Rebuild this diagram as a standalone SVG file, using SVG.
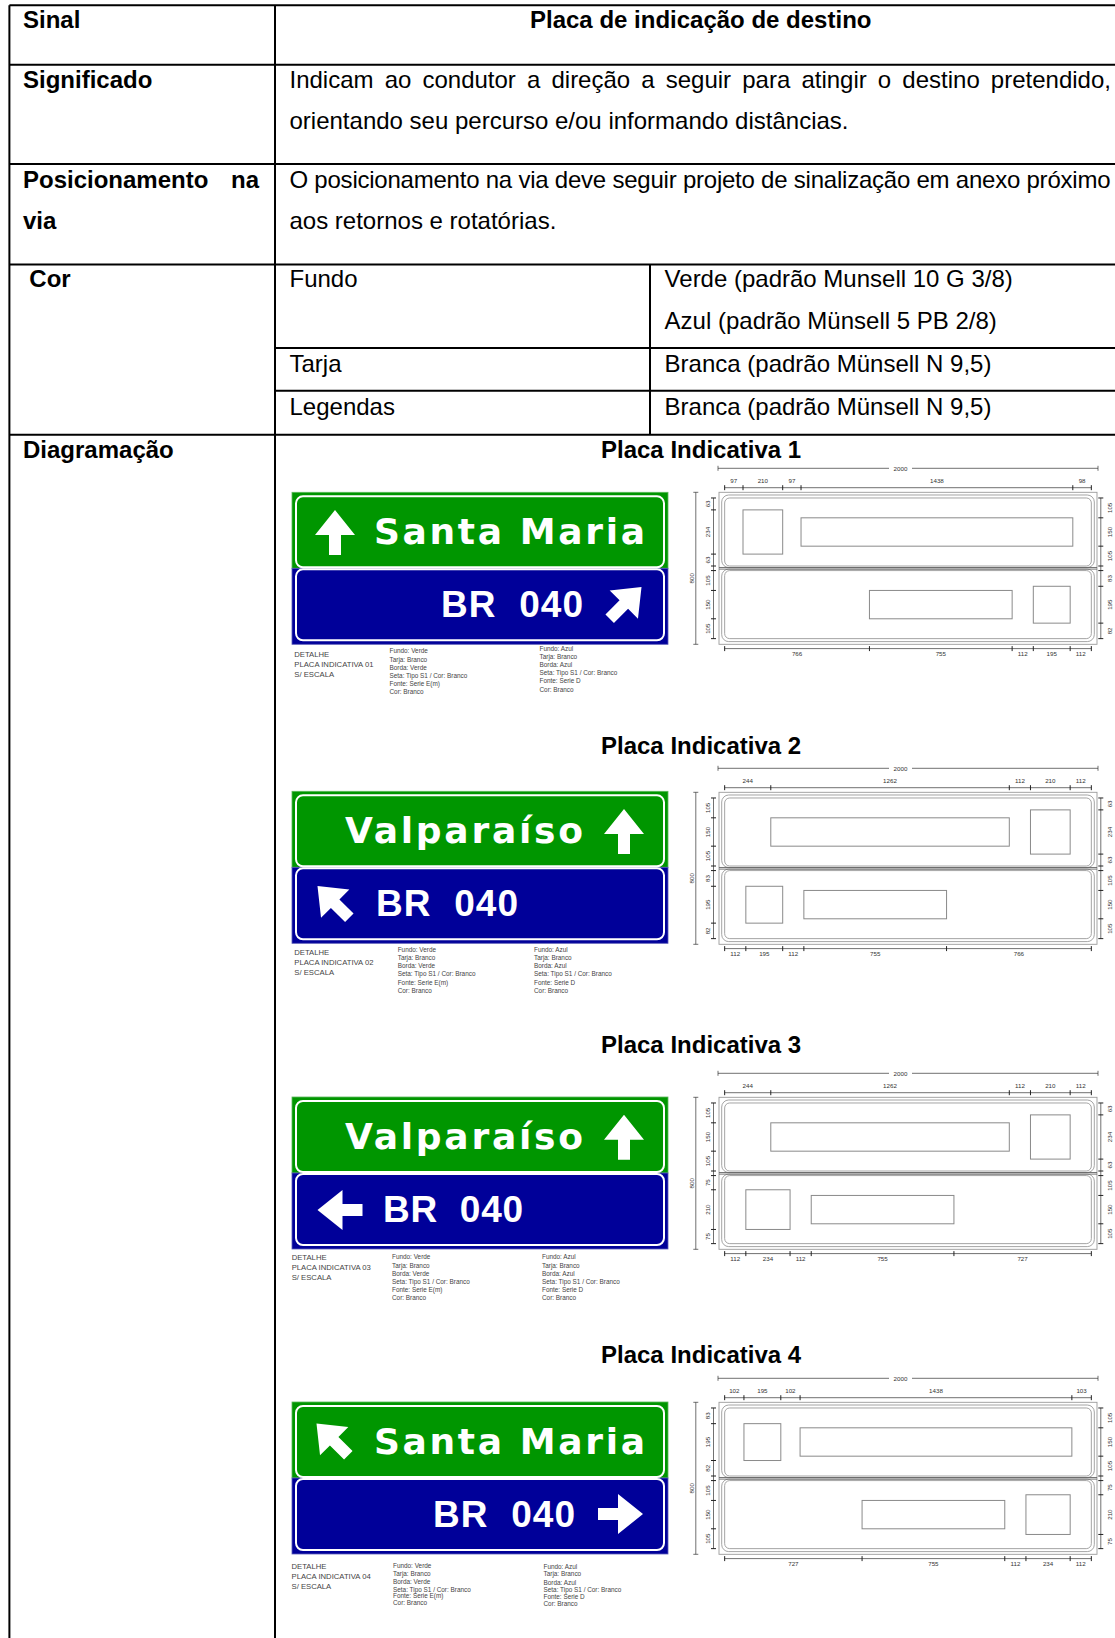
<svg xmlns="http://www.w3.org/2000/svg" xmlns:xlink="http://www.w3.org/1999/xlink" width="1115" height="1638" viewBox="0 0 1115 1638">
<style>
.t{font-family:"Liberation Sans",Arial,sans-serif;font-size:24px;fill:#000}
.b{font-weight:bold}
.gl{stroke:#000;stroke-width:2;fill:none}
.sg{font-family:"DejaVu Sans",Verdana,sans-serif;font-weight:bold;font-size:36px;fill:#fff}
.br{font-family:"Liberation Sans",Arial,sans-serif;font-weight:bold;font-size:37px;fill:#fff;white-space:pre}
.tj{fill:none;stroke:#fff;stroke-width:2}
.dt{font-family:"Liberation Sans",Arial,sans-serif;font-size:7.7px;fill:#444}
.sp{font-family:"Liberation Sans",Arial,sans-serif;font-size:6.4px;fill:#444}
.dm{font-family:"Liberation Sans",Arial,sans-serif;font-size:6.2px;fill:#333;text-anchor:middle}
.ol{fill:none;stroke:#9a9a9a;stroke-width:0.9}
.bx{fill:none;stroke:#8a8a8a;stroke-width:1}
.dl{fill:none;stroke:#333;stroke-width:0.7}
.tk{fill:none;stroke:#222;stroke-width:1}
</style>
<defs>
<path id="arr" d="M0,-22.5L20,2.5H6V22.5H-6V2.5H-20Z" fill="#fff"/>
<g id="signbase">
<rect x="0" y="0" width="376" height="76" fill="#009600" stroke="#5cb85c" stroke-width="0.8"/>
<rect x="0" y="76" width="376" height="76" fill="#000099" stroke="#5a5ab8" stroke-width="0.8"/>
<rect x="4" y="4" width="368" height="71" rx="7" class="tj"/>
<rect x="4" y="77" width="368" height="71" rx="7" class="tj"/>
</g>
<g id="dwgbase">
<rect x="719" y="0" width="378" height="152" class="ol"/>
<rect x="721.7" y="2.7" width="372.6" height="72.5" rx="7" class="ol"/>
<rect x="724.67" y="5.67" width="366.66" height="68.04" rx="5" class="ol"/>
<rect x="721.7" y="76.8" width="372.6" height="72.5" rx="7" class="ol"/>
<rect x="724.67" y="78.29" width="366.66" height="68.04" rx="5" class="ol"/>
<path d="M719,75.2H1097M719,76.8H1097" stroke="#666" stroke-width="0.9" fill="none"/>
<path class="dl" d="M718,-24H889M912,-24H1098M718,-26.5v5M1098,-26.5v5M695.8,0V152M693.3,0h5M693.3,152h5M713.5,5.67V146.33M1100.8,5.67V146.33M724.67,-4.6H1091.33M724.67,156.3H1091.33"/>
<path class="tk" d="M711,5.67h5M711,73.71h5M711,78.29h5M711,146.33h5M1098.3,5.67h5M1098.3,73.71h5M1098.3,78.29h5M1098.3,146.33h5M724.67,-7.1v5M1091.33,-7.1v5M724.67,153.8v5M1091.33,153.8v5"/>
</g>
</defs>

<g id="table-grid">
<path class="gl" d="M9.4,5.2H1115M9.4,64.8H1115M9.4,164H1115M9.4,264.4H1115M275,348H1115M275,390.8H1115M9.4,434.7H1115M9.4,5.2V1638M275,5.2V1638M650,264.4V434.7"/>
</g>

<g id="row-sinal">
<text class="t b" x="23" y="28.2">Sinal</text>
<text class="t b" x="530" y="28.2">Placa de indicação de destino</text>
</g>
<g id="row-significado">
<text class="t b" x="23" y="87.8">Significado</text>
<text class="t" x="289.5" y="87.8" word-spacing="4.45">Indicam ao condutor a direção a seguir para atingir o destino pretendido,</text>
<text class="t" x="289.5" y="128.5">orientando seu percurso e/ou informando distâncias.</text>
</g>
<g id="row-posicionamento">
<text class="t b" x="23" y="188">Posicionamento</text>
<text class="t b" x="259" y="188" text-anchor="end">na</text>
<text class="t b" x="23" y="228.9">via</text>
<text class="t" x="289.5" y="188" textLength="821" lengthAdjust="spacing">O posicionamento na via deve seguir projeto de sinalização em anexo próximo</text>
<text class="t" x="289.5" y="228.9">aos retornos e rotatórias.</text>
</g>
<g id="row-cor">
<text class="t b" x="29.3" y="287.4">Cor</text>
<text class="t" x="289.5" y="287.4">Fundo</text>
<text class="t" x="664.6" y="287.4">Verde (padrão Munsell 10 G 3/8)</text>
<text class="t" x="664.6" y="329.2">Azul (padrão Münsell 5 PB 2/8)</text>
<text class="t" x="289.5" y="372">Tarja</text>
<text class="t" x="664.6" y="372">Branca (padrão Münsell N 9,5)</text>
<text class="t" x="289.5" y="414.9">Legendas</text>
<text class="t" x="664.6" y="414.9">Branca (padrão Münsell N 9,5)</text>
</g>
<g id="row-diagramacao">
<text class="t b" x="23" y="457.7">Diagramação</text>
</g>

<!-- ===== Placa 1 ===== -->
<g id="placa1">
<text class="t b" x="601" y="457.5">Placa Indicativa 1</text>
<g id="placa1-sign" transform="translate(292,492.3)">
<use xlink:href="#signbase"/>
<use xlink:href="#arr" transform="translate(43,40.2)"/>
<text class="sg" x="82" y="52" textLength="271" lengthAdjust="spacing">Santa Maria</text>
<text class="br" x="149" y="125" textLength="142" lengthAdjust="spacing" xml:space="preserve">BR  040</text>
<use xlink:href="#arr" transform="translate(333.6,110.5) rotate(45)"/>
</g>
<g id="placa1-notes">
<text class="dt" x="294.3" y="656.7">DETALHE</text>
<text class="dt" x="294.3" y="667.2">PLACA INDICATIVA 01</text>
<text class="dt" x="294.3" y="677.3">S/ ESCALA</text>
<text class="sp" x="389.5" y="653.3">Fundo: Verde</text>
<text class="sp" x="389.5" y="661.5">Tarja: Branco</text>
<text class="sp" x="389.5" y="669.6">Borda: Verde</text>
<text class="sp" x="389.5" y="677.7">Seta: Tipo S1 / Cor: Branco</text>
<text class="sp" x="389.5" y="685.8">Fonte: Serie E(m)</text>
<text class="sp" x="389.5" y="694">Cor: Branco</text>
<text class="sp" x="539.5" y="651">Fundo: Azul</text>
<text class="sp" x="539.5" y="659.1">Tarja: Branco</text>
<text class="sp" x="539.5" y="667.2">Borda: Azul</text>
<text class="sp" x="539.5" y="675.3">Seta: Tipo S1 / Cor: Branco</text>
<text class="sp" x="539.5" y="683.4">Fonte: Serie D</text>
<text class="sp" x="539.5" y="691.5">Cor: Branco</text>
</g>
<g id="placa1-drawing" transform="translate(0,492.3)">
<use xlink:href="#dwgbase"/>
<rect class="bx" x="743" y="17.58" width="39.69" height="44.22"/>
<rect class="bx" x="801.03" y="25.52" width="271.78" height="28.35"/>
<rect class="bx" x="869.44" y="98.14" width="142.7" height="28.35"/>
<rect class="bx" x="1033.31" y="93.98" width="36.86" height="36.86"/>
<path class="tk" d="M711,17.58h5M711,61.8h5M711,98.14h5M711,126.49h5M1098.3,25.52h5M1098.3,53.87h5M1098.3,93.98h5M1098.3,130.83h5M743,-7.1v5M782.69,-7.1v5M801.03,-7.1v5M1072.81,-7.1v5M869.44,153.8v5M1012.14,153.8v5M1033.31,153.8v5M1070.17,153.8v5"/>
<text class="dm" x="900.5" y="-21.7">2000</text>
<text class="dm" transform="translate(693.5,86) rotate(-90)">800</text>
<text class="dm" x="733.8" y="-9.3">97</text><text class="dm" x="762.8" y="-9.3">210</text><text class="dm" x="791.9" y="-9.3">97</text><text class="dm" x="936.9" y="-9.3">1438</text><text class="dm" x="1082.1" y="-9.3">98</text>
<text class="dm" x="797.1" y="164">766</text><text class="dm" x="940.8" y="164">755</text><text class="dm" x="1022.7" y="164">112</text><text class="dm" x="1051.7" y="164">195</text><text class="dm" x="1080.8" y="164">112</text>
<text class="dm" transform="translate(709.5,11.63) rotate(-90)">63</text><text class="dm" transform="translate(709.5,39.69) rotate(-90)">234</text><text class="dm" transform="translate(709.5,67.76) rotate(-90)">63</text>
<text class="dm" transform="translate(709.5,88.22) rotate(-90)">105</text><text class="dm" transform="translate(709.5,112.32) rotate(-90)">150</text><text class="dm" transform="translate(709.5,136.41) rotate(-90)">105</text>
<text class="dm" transform="translate(1111.5,15.6) rotate(-90)">105</text><text class="dm" transform="translate(1111.5,39.7) rotate(-90)">150</text><text class="dm" transform="translate(1111.5,63.79) rotate(-90)">105</text>
<text class="dm" transform="translate(1111.5,86.14) rotate(-90)">83</text><text class="dm" transform="translate(1111.5,112.41) rotate(-90)">195</text><text class="dm" transform="translate(1111.5,138.58) rotate(-90)">82</text>
</g>
</g>

<!-- ===== Placa 2 ===== -->
<g id="placa2">
<text class="t b" x="601" y="754.3">Placa Indicativa 2</text>
<g id="placa2-sign" transform="translate(292,791.3)">
<use xlink:href="#signbase"/>
<text class="sg" x="53" y="52" textLength="238" lengthAdjust="spacing">Valparaíso</text>
<use xlink:href="#arr" transform="translate(332,40.2)"/>
<use xlink:href="#arr" transform="translate(41.4,110.6) rotate(-45)"/>
<text class="br" x="84" y="125" textLength="142" lengthAdjust="spacing" xml:space="preserve">BR  040</text>
</g>
<g id="placa2-notes">
<text class="dt" x="294.3" y="955">DETALHE</text>
<text class="dt" x="294.3" y="965.2">PLACA INDICATIVA 02</text>
<text class="dt" x="294.3" y="975.3">S/ ESCALA</text>
<text class="sp" x="397.7" y="951.7">Fundo: Verde</text>
<text class="sp" x="397.7" y="959.9">Tarja: Branco</text>
<text class="sp" x="397.7" y="968.1">Borda: Verde</text>
<text class="sp" x="397.7" y="976.3">Seta: Tipo S1 / Cor: Branco</text>
<text class="sp" x="397.7" y="984.5">Fonte: Serie E(m)</text>
<text class="sp" x="397.7" y="992.7">Cor: Branco</text>
<text class="sp" x="534" y="951.7">Fundo: Azul</text>
<text class="sp" x="534" y="959.9">Tarja: Branco</text>
<text class="sp" x="534" y="968.1">Borda: Azul</text>
<text class="sp" x="534" y="976.3">Seta: Tipo S1 / Cor: Branco</text>
<text class="sp" x="534" y="984.5">Fonte: Serie D</text>
<text class="sp" x="534" y="992.7">Cor: Branco</text>
</g>
<g id="placa2-drawing" transform="translate(0,792.3)">
<use xlink:href="#dwgbase"/>
<rect class="bx" x="770.79" y="25.52" width="238.51" height="28.35"/>
<rect class="bx" x="1030.47" y="17.58" width="39.69" height="44.22"/>
<rect class="bx" x="745.84" y="93.98" width="36.86" height="36.86"/>
<rect class="bx" x="803.86" y="98.14" width="142.7" height="28.35"/>
<path class="tk" d="M711,25.52h5M711,53.87h5M711,93.98h5M711,130.83h5M1098.3,17.58h5M1098.3,61.8h5M1098.3,98.14h5M1098.3,126.49h5M770.79,-7.1v5M1009.3,-7.1v5M1030.47,-7.1v5M1070.16,-7.1v5M745.84,153.8v5M782.69,153.8v5M803.86,153.8v5M946.56,153.8v5"/>
<text class="dm" x="900.5" y="-21.7">2000</text>
<text class="dm" transform="translate(693.5,86) rotate(-90)">800</text>
<text class="dm" x="747.7" y="-9.3">244</text><text class="dm" x="890" y="-9.3">1262</text><text class="dm" x="1019.9" y="-9.3">112</text><text class="dm" x="1050.3" y="-9.3">210</text><text class="dm" x="1080.7" y="-9.3">112</text>
<text class="dm" x="735.3" y="164">112</text><text class="dm" x="764.3" y="164">195</text><text class="dm" x="793.3" y="164">112</text><text class="dm" x="875.2" y="164">755</text><text class="dm" x="1018.9" y="164">766</text>
<text class="dm" transform="translate(709.5,15.6) rotate(-90)">105</text><text class="dm" transform="translate(709.5,39.7) rotate(-90)">150</text><text class="dm" transform="translate(709.5,63.79) rotate(-90)">105</text>
<text class="dm" transform="translate(709.5,86.14) rotate(-90)">83</text><text class="dm" transform="translate(709.5,112.41) rotate(-90)">195</text><text class="dm" transform="translate(709.5,138.58) rotate(-90)">82</text>
<text class="dm" transform="translate(1111.5,11.63) rotate(-90)">63</text><text class="dm" transform="translate(1111.5,39.69) rotate(-90)">234</text><text class="dm" transform="translate(1111.5,67.76) rotate(-90)">63</text>
<text class="dm" transform="translate(1111.5,88.22) rotate(-90)">105</text><text class="dm" transform="translate(1111.5,112.32) rotate(-90)">150</text><text class="dm" transform="translate(1111.5,136.41) rotate(-90)">105</text>
</g>
</g>

<!-- ===== Placa 3 ===== -->
<g id="placa3">
<text class="t b" x="601" y="1053.3">Placa Indicativa 3</text>
<g id="placa3-sign" transform="translate(292,1097)">
<use xlink:href="#signbase"/>
<text class="sg" x="53" y="52" textLength="238" lengthAdjust="spacing">Valparaíso</text>
<use xlink:href="#arr" transform="translate(332,40.2)"/>
<use xlink:href="#arr" transform="translate(48,113) rotate(-90)"/>
<text class="br" x="91" y="125" textLength="140" lengthAdjust="spacing" xml:space="preserve">BR  040</text>
</g>
<g id="placa3-notes">
<text class="dt" x="291.7" y="1259.5">DETALHE</text>
<text class="dt" x="291.7" y="1269.8">PLACA INDICATIVA 03</text>
<text class="dt" x="291.7" y="1280">S/ ESCALA</text>
<text class="sp" x="392" y="1259.3">Fundo: Verde</text>
<text class="sp" x="392" y="1267.5">Tarja: Branco</text>
<text class="sp" x="392" y="1275.7">Borda: Verde</text>
<text class="sp" x="392" y="1283.9">Seta: Tipo S1 / Cor: Branco</text>
<text class="sp" x="392" y="1292.1">Fonte: Serie E(m)</text>
<text class="sp" x="392" y="1300.3">Cor: Branco</text>
<text class="sp" x="542" y="1259.3">Fundo: Azul</text>
<text class="sp" x="542" y="1267.5">Tarja: Branco</text>
<text class="sp" x="542" y="1275.7">Borda: Azul</text>
<text class="sp" x="542" y="1283.9">Seta: Tipo S1 / Cor: Branco</text>
<text class="sp" x="542" y="1292.1">Fonte: Serie D</text>
<text class="sp" x="542" y="1300.3">Cor: Branco</text>
</g>
<g id="placa3-drawing" transform="translate(0,1097.3)">
<use xlink:href="#dwgbase"/>
<rect class="bx" x="770.79" y="25.52" width="238.51" height="28.35"/>
<rect class="bx" x="1030.47" y="17.58" width="39.69" height="44.22"/>
<rect class="bx" x="745.84" y="92.47" width="44.23" height="39.69"/>
<rect class="bx" x="811.23" y="98.14" width="142.7" height="28.35"/>
<path class="tk" d="M711,25.52h5M711,53.87h5M711,92.47h5M711,132.16h5M1098.3,17.58h5M1098.3,61.8h5M1098.3,98.14h5M1098.3,126.49h5M770.79,-7.1v5M1009.3,-7.1v5M1030.47,-7.1v5M1070.16,-7.1v5M745.84,153.8v5M790.06,153.8v5M811.23,153.8v5M953.93,153.8v5"/>
<text class="dm" x="900.5" y="-21.7">2000</text>
<text class="dm" transform="translate(693.5,86) rotate(-90)">800</text>
<text class="dm" x="747.7" y="-9.3">244</text><text class="dm" x="890" y="-9.3">1262</text><text class="dm" x="1019.9" y="-9.3">112</text><text class="dm" x="1050.3" y="-9.3">210</text><text class="dm" x="1080.7" y="-9.3">112</text>
<text class="dm" x="735.3" y="164">112</text><text class="dm" x="768" y="164">234</text><text class="dm" x="800.6" y="164">112</text><text class="dm" x="882.6" y="164">755</text><text class="dm" x="1022.6" y="164">727</text>
<text class="dm" transform="translate(709.5,15.6) rotate(-90)">105</text><text class="dm" transform="translate(709.5,39.7) rotate(-90)">150</text><text class="dm" transform="translate(709.5,63.79) rotate(-90)">105</text>
<text class="dm" transform="translate(709.5,85.38) rotate(-90)">75</text><text class="dm" transform="translate(709.5,112.32) rotate(-90)">210</text><text class="dm" transform="translate(709.5,139.25) rotate(-90)">75</text>
<text class="dm" transform="translate(1111.5,11.63) rotate(-90)">63</text><text class="dm" transform="translate(1111.5,39.69) rotate(-90)">234</text><text class="dm" transform="translate(1111.5,67.76) rotate(-90)">63</text>
<text class="dm" transform="translate(1111.5,88.22) rotate(-90)">105</text><text class="dm" transform="translate(1111.5,112.32) rotate(-90)">150</text><text class="dm" transform="translate(1111.5,136.41) rotate(-90)">105</text>
</g>
</g>

<!-- ===== Placa 4 ===== -->
<g id="placa4">
<text class="t b" x="601" y="1363.3">Placa Indicativa 4</text>
<g id="placa4-sign" transform="translate(292,1402)">
<use xlink:href="#signbase"/>
<use xlink:href="#arr" transform="translate(40.4,37.4) rotate(-45)"/>
<text class="sg" x="82" y="52" textLength="271" lengthAdjust="spacing">Santa Maria</text>
<text class="br" x="141" y="125" textLength="142" lengthAdjust="spacing" xml:space="preserve">BR  040</text>
<use xlink:href="#arr" transform="translate(328.5,112) rotate(90)"/>
</g>
<g id="placa4-notes">
<text class="dt" x="291.5" y="1568.5">DETALHE</text>
<text class="dt" x="291.5" y="1578.7">PLACA INDICATIVA 04</text>
<text class="dt" x="291.5" y="1589">S/ ESCALA</text>
<text class="sp" x="393" y="1567.5">Fundo: Verde</text>
<text class="sp" x="393" y="1575.5">Tarja: Branco</text>
<text class="sp" x="393" y="1584.3">Borda: Verde</text>
<text class="sp" x="393" y="1591.8">Seta: Tipo S1 / Cor: Branco</text>
<text class="sp" x="393" y="1597.7">Fonte: Serie E(m)</text>
<text class="sp" x="393" y="1605">Cor: Branco</text>
<text class="sp" x="543.5" y="1568.5">Fundo: Azul</text>
<text class="sp" x="543.5" y="1575.8">Tarja: Branco</text>
<text class="sp" x="543.5" y="1584.5">Borda: Azul</text>
<text class="sp" x="543.5" y="1591.8">Seta: Tipo S1 / Cor: Branco</text>
<text class="sp" x="543.5" y="1598.8">Fonte: Serie D</text>
<text class="sp" x="543.5" y="1605.8">Cor: Branco</text>
</g>
<g id="placa4-drawing" transform="translate(0,1402.3)">
<use xlink:href="#dwgbase"/>
<rect class="bx" x="743.95" y="21.36" width="36.86" height="36.86"/>
<rect class="bx" x="800.08" y="25.52" width="271.78" height="28.35"/>
<rect class="bx" x="862.07" y="98.14" width="142.7" height="28.35"/>
<rect class="bx" x="1025.94" y="92.47" width="44.23" height="39.69"/>
<path class="tk" d="M711,21.36h5M711,58.21h5M711,98.14h5M711,126.49h5M1098.3,25.52h5M1098.3,53.87h5M1098.3,92.47h5M1098.3,132.16h5M743.95,-7.1v5M780.8,-7.1v5M800.08,-7.1v5M1071.86,-7.1v5M862.07,153.8v5M1004.77,153.8v5M1025.94,153.8v5M1070.16,153.8v5"/>
<text class="dm" x="900.5" y="-21.7">2000</text>
<text class="dm" transform="translate(693.5,86) rotate(-90)">800</text>
<text class="dm" x="734.3" y="-9.3">102</text><text class="dm" x="762.4" y="-9.3">195</text><text class="dm" x="790.4" y="-9.3">102</text><text class="dm" x="936" y="-9.3">1438</text><text class="dm" x="1081.6" y="-9.3">103</text>
<text class="dm" x="793.4" y="164">727</text><text class="dm" x="933.4" y="164">755</text><text class="dm" x="1015.4" y="164">112</text><text class="dm" x="1048.1" y="164">234</text><text class="dm" x="1080.7" y="164">112</text>
<text class="dm" transform="translate(709.5,13.52) rotate(-90)">83</text><text class="dm" transform="translate(709.5,39.79) rotate(-90)">195</text><text class="dm" transform="translate(709.5,65.96) rotate(-90)">82</text>
<text class="dm" transform="translate(709.5,88.22) rotate(-90)">105</text><text class="dm" transform="translate(709.5,112.32) rotate(-90)">150</text><text class="dm" transform="translate(709.5,136.41) rotate(-90)">105</text>
<text class="dm" transform="translate(1111.5,15.6) rotate(-90)">105</text><text class="dm" transform="translate(1111.5,39.7) rotate(-90)">150</text><text class="dm" transform="translate(1111.5,63.79) rotate(-90)">105</text>
<text class="dm" transform="translate(1111.5,85.38) rotate(-90)">75</text><text class="dm" transform="translate(1111.5,112.32) rotate(-90)">210</text><text class="dm" transform="translate(1111.5,139.25) rotate(-90)">75</text>
</g>
</g>
</svg>
